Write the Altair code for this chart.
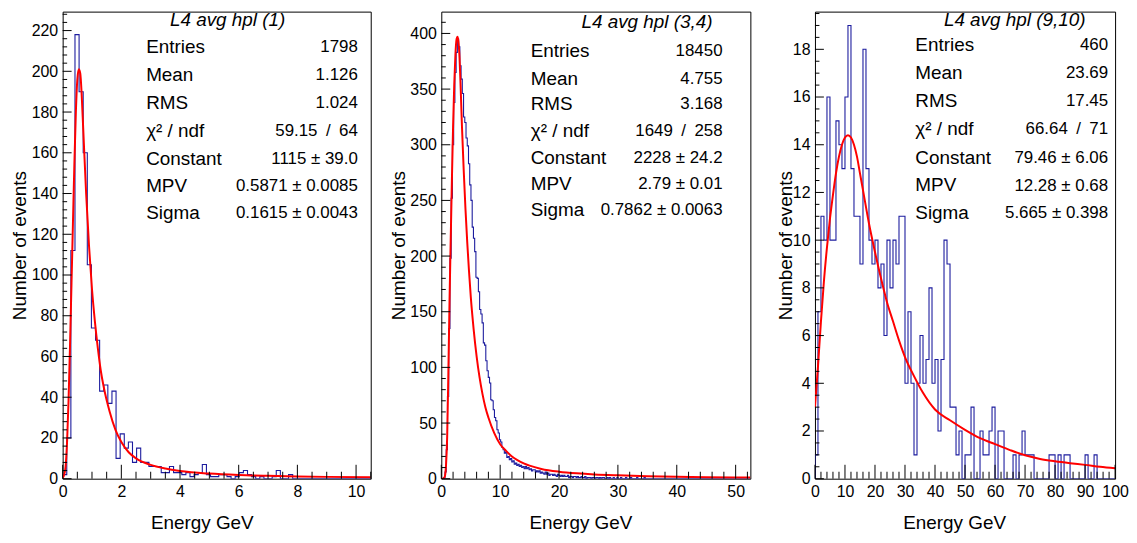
import altair as alt
import pandas as pd
import numpy as np

FONT = "Liberation Sans"
BLUE = "#1c1c9e"
RED = "#ff0000"
SP = "\u2002"

# ---------------- Panel 1 : L4 avg hpl (1) ----------------
p1_bin_width = 0.14
p1_counts = [2, 20, 112, 218, 190, 160, 105, 74, 68, 43, 46, 37, 43, 10, 22, 15, 18, 8, 15, 8,
             8, 6, 6, 6, 3, 3, 6, 3, 3, 2, 3, 1, 2, 3, 7, 2, 1, 1, 2, 2,
             1, 0, 1, 3, 4, 2, 1, 0, 1, 0, 0, 1, 4, 0, 0, 2, 0, 0, 0, 0,
             0, 0, 0, 0, 0, 0, 0, 0, 0, 0, 0, 0, 0, 0, 0]
p1_fit_x = [0.0, 0.05, 0.1, 0.15, 0.2, 0.25, 0.3, 0.35, 0.4, 0.45, 0.5, 0.55, 0.6, 0.65, 0.7,
            0.8, 0.9, 1.0, 1.1, 1.2, 1.3, 1.4, 1.6, 1.8, 2.0, 2.25, 2.5, 3.0, 3.5, 4.0, 5.0,
            6.0, 7.0, 8.0, 9.0, 10.5]
p1_fit_y = [0.5, 2, 6, 18, 38, 65, 95, 125, 155, 180, 196, 201, 199, 188, 172,
            140, 114, 93, 77, 64, 53, 45, 33, 24, 18, 13, 10, 6.8, 5.0, 3.8, 2.5,
            1.8, 1.4, 1.1, 0.9, 0.7]
p1_x_major = [0, 2, 4, 6, 8, 10]
p1_y_major = [0, 20, 40, 60, 80, 100, 120, 140, 160, 180, 200, 220]
p1_stats_title = "L4 avg hpl (1)"
p1_stats_labels = ["Entries", "Mean", "RMS", "χ² / ndf", "Constant", "MPV", "Sigma"]
p1_stats_values = ["1798", "1.126", "1.024", "59.15" + SP + "/" + SP + "64", "1115 ± 39.0",
                   "0.5871 ± 0.0085", "0.1615 ± 0.0043"]

# ---------------- Panel 2 : L4 avg hpl (3,4) ----------------
p2_bin_width = 0.21
p2_counts = ([0, 0, 1, 6, 26, 74, 135, 198, 252, 300, 338, 365, 383, 395,
              388, 371, 359, 346, 325, 320, 306, 299, 283, 264, 250, 226, 216, 204, 181, 180,
              168, 152, 148, 140, 122, 120, 106, 97, 91, 86, 71, 70, 62, 55, 52, 44, 41, 35, 33, 28,
              26, 23, 24, 19, 20, 17, 18, 15, 16, 13,
              14, 12, 13, 11, 12, 10, 11, 9, 11, 9,
              10, 8, 9, 7, 8, 8, 6, 7, 6, 7,
              5, 6, 5, 4, 6, 4, 5, 3, 4, 4,
              3, 4, 3, 2, 4, 3, 2, 3, 2, 3,
              2, 2, 3, 1, 2, 2, 1, 2, 2, 1,
              2, 1, 1, 2, 1, 1, 2, 0, 1, 1,
              1, 0, 1, 1, 0, 1, 1, 0, 1, 0,
              1, 1, 0, 0, 1, 0, 1, 0, 0, 1,
              0, 0, 1, 0, 0, 1, 0, 0, 0, 1,
              0, 0, 0, 1, 0, 0, 0, 0, 1, 0,
              0, 0, 0, 0, 1, 0, 0, 0, 0, 0]
             + [0] * 80)
p2_fit_x = [0.0, 0.4, 0.6, 0.8, 1.0, 1.2, 1.4, 1.6, 1.8, 2.0, 2.2, 2.4, 2.6, 2.75, 2.9, 3.1,
            3.3, 3.5, 3.8, 4.1, 4.4, 4.7, 5.0, 5.5, 6.0, 6.5, 7.0, 7.5, 8.0, 9.0, 10, 11, 12,
            13, 14, 15, 17, 20, 23, 26, 30, 35, 40, 45, 52.5]
p2_fit_y = [0, 0.3, 2, 12, 38, 95, 160, 215, 268, 316, 354, 381, 395, 397, 393, 378,
            350, 318, 278, 243, 213, 187, 164, 134, 110, 91, 76, 64, 55, 41, 31, 25, 20,
            16.5, 13.8, 11.7, 8.8, 6.3, 4.8, 3.8, 3.0, 2.3, 1.8, 1.4, 1.0]
p2_x_major = [0, 10, 20, 30, 40, 50]
p2_y_major = [0, 50, 100, 150, 200, 250, 300, 350, 400]
p2_stats_title = "L4 avg hpl (3,4)"
p2_stats_labels = ["Entries", "Mean", "RMS", "χ² / ndf", "Constant", "MPV", "Sigma"]
p2_stats_values = ["18450", "4.755", "3.168", "1649" + SP + "/" + SP + "258", "2228 ± 24.2",
                   "2.79 ± 0.01", "0.7862 ± 0.0063"]

# ---------------- Panel 3 : L4 avg hpl (9,10) ----------------
p3_bin_width = 1.0
p3_counts = [1, 7, 11, 10, 16, 10, 10, 15, 14, 13, 16, 19, 13, 11, 11, 9, 18, 13, 10, 9,
             10, 8, 9, 6, 10, 8, 10, 9, 11, 11, 4, 7, 4, 1, 4, 6, 4, 5, 8, 4,
             5, 2, 5, 10, 9, 3, 3, 1, 2, 0, 1, 1, 3, 0, 0, 2, 1, 1, 2, 3,
             0, 2, 2, 0, 0, 0, 1, 0, 1, 2, 1, 1, 1, 0, 0, 0, 0, 0, 1, 1,
             0, 1, 0, 1, 1, 0, 0, 0, 0, 0, 1, 0, 0, 1, 0, 0, 0, 0, 0, 0]
p3_fit_x = [0, 1, 2, 3, 4, 5, 6, 7, 8, 9, 10, 11, 12, 13, 14, 15, 16, 18, 20, 22, 24, 26, 28,
            30, 33, 36, 40, 45, 50, 55, 60, 65, 70, 75, 80, 85, 90, 95, 100]
p3_fit_y = [3.0, 4.7, 6.6, 8.3, 9.7, 10.9, 11.9, 12.8, 13.5, 14.0, 14.3, 14.4, 14.3, 14.0,
            13.5, 12.8, 12.1, 10.7, 9.5, 8.4, 7.4, 6.6, 5.8, 5.1, 4.3, 3.6, 2.9, 2.45, 2.05,
            1.7, 1.45, 1.2, 0.98, 0.83, 0.73, 0.65, 0.58, 0.5, 0.44]
p3_x_major = [0, 10, 20, 30, 40, 50, 60, 70, 80, 90, 100]
p3_y_major = [0, 2, 4, 6, 8, 10, 12, 14, 16, 18]
p3_stats_title = "L4 avg hpl (9,10)"
p3_stats_labels = ["Entries", "Mean", "RMS", "χ² / ndf", "Constant", "MPV", "Sigma"]
p3_stats_values = ["460", "23.69", "17.45", "66.64" + SP + "/" + SP + "71", "79.46 ± 6.06",
                   "12.28 ± 0.68", "5.665 ± 0.398"]

H = 470


def hist_frame(counts, width):
    edges = np.arange(len(counts) + 1) * width
    xs = [0.0] + list(edges[:-1]) + [edges[-1], edges[-1]]
    ys = [0] + list(counts) + [counts[-1], 0]
    return pd.DataFrame({"x": xs, "y": ys})


def panel(counts, bw, fx, fy, xdom, ydom, xmaj, xminstep, ymaj, yminstep,
          W, yext, ytitlepad, stitle, slabels, svalues, tpos, lab_x, val_x, rows_y):
    xs = alt.Scale(domain=xdom, nice=False, zero=False)
    ys = alt.Scale(domain=ydom, nice=False, zero=False)
    xaxis = alt.Axis(values=xmaj, ticks=False, domain=False, grid=False, format="d",
                     labelFontSize=16, labelPadding=5, labelOverlap=False, labelFlush=False,
                     title="Energy GeV", titleFontSize=19, titleFontWeight="normal",
                     titleX=140, titleY=44, titleBaseline="middle", titleAlign="center")
    yaxis = alt.Axis(values=ymaj, ticks=False, domain=False, grid=False, format="d",
                     labelFontSize=16, labelPadding=5, labelOverlap=False, labelFlush=False,
                     minExtent=yext, maxExtent=yext,
                     title="Number of events", titleFontSize=19, titleFontWeight="normal",
                     titlePadding=ytitlepad)
    X = alt.X("x:Q", scale=xs, axis=xaxis)
    Y = alt.Y("y:Q", scale=ys, axis=yaxis)

    hist = alt.Chart(hist_frame(counts, bw)).mark_line(
        interpolate="step-after", color=BLUE, strokeWidth=1.1, clip=True).encode(x=X, y=Y)
    fit = alt.Chart(pd.DataFrame({"x": fx, "y": fy})).mark_line(
        interpolate="monotone", color=RED, strokeWidth=2, clip=True).encode(x=X, y=Y)

    xmin_vals = [v for v in np.arange(xdom[0], xdom[1] + 1e-9, xminstep)
                 if min(abs(v - m) for m in xmaj) > 1e-6]
    ymin_vals = [v for v in np.arange(ydom[0], ydom[1] + 1e-9, yminstep)
                 if min(abs(v - m) for m in ymaj) > 1e-6]
    xt_major = alt.Chart(pd.DataFrame({"x": xmaj})).mark_rule(color="black", strokeWidth=1).encode(
        x=X, y=alt.value(H), y2=alt.value(H - 14))
    xt_minor = alt.Chart(pd.DataFrame({"x": xmin_vals})).mark_rule(color="black", strokeWidth=1).encode(
        x=X, y=alt.value(H), y2=alt.value(H - 7))
    yt_major = alt.Chart(pd.DataFrame({"y": ymaj})).mark_rule(color="black", strokeWidth=1).encode(
        y=Y, x=alt.value(0), x2=alt.value(9))
    yt_minor = alt.Chart(pd.DataFrame({"y": ymin_vals})).mark_rule(color="black", strokeWidth=1).encode(
        y=Y, x=alt.value(0), x2=alt.value(4.5))

    one = pd.DataFrame({"a": [0]})
    texts = [alt.Chart(one).mark_text(font=FONT, fontSize=19, fontStyle="italic",
                                      align="center", baseline="middle", color="black").encode(
        x=alt.value(tpos[0]), y=alt.value(tpos[1]), text=alt.value(stitle))]
    for lab, val, ry in zip(slabels, svalues, rows_y):
        texts.append(alt.Chart(one).mark_text(font=FONT, fontSize=19, align="left",
                                              baseline="middle", color="black").encode(
            x=alt.value(lab_x), y=alt.value(ry), text=alt.value(lab)))
        texts.append(alt.Chart(one).mark_text(font=FONT, fontSize=17, align="right",
                                              baseline="middle", color="black").encode(
            x=alt.value(val_x), y=alt.value(ry), text=alt.value(val)))

    return alt.layer(hist, fit, xt_major, xt_minor, yt_major, yt_minor, *texts).properties(
        width=W, height=H)


c1 = panel(p1_counts, p1_bin_width, p1_fit_x, p1_fit_y, [0, 10.5], [0, 229.3],
           p1_x_major, 0.5, p1_y_major, 4, 310, 32, 1,
           p1_stats_title, p1_stats_labels, p1_stats_values, (166, 8), 84, 297,
           [36, 64, 92, 120, 148, 176, 203])
c2 = panel(p2_counts, p2_bin_width, p2_fit_x, p2_fit_y, [0, 52.5], [0, 419.6],
           p2_x_major, 2, p2_y_major, 10, 311, 32, 1,
           p2_stats_title, p2_stats_labels, p2_stats_values, (207, 10), 90, 283,
           [40, 68, 93, 120, 147, 173, 200])
c3 = panel(p3_counts, p3_bin_width, p3_fit_x, p3_fit_y, [0, 100], [0, 19.58],
           p3_x_major, 2, p3_y_major, 0.5, 302, 19, 1,
           p3_stats_title, p3_stats_labels, p3_stats_values, (201, 8), 101, 295,
           [34, 62, 90, 118, 147, 175, 203])

chart = alt.hconcat(alt.hconcat(c1, c2, spacing=17), c3, spacing=24).properties(
    padding={"left": 2, "top": 0, "right": 0, "bottom": 0}
).configure_view(stroke="black", strokeWidth=1).configure_axis(
    labelFont=FONT, titleFont=FONT, labelColor="black", titleColor="black"
)

chart.save("out.html", embed_options={"renderer": "svg", "actions": False})
